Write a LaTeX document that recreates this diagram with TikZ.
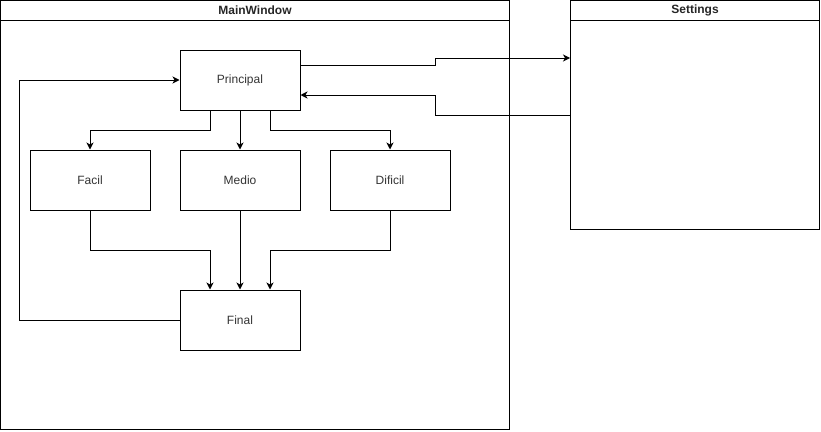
\documentclass[tikz,border=0pt]{standalone}
\usepackage{fontspec}
\setmainfont{Liberation Sans}
\usetikzlibrary{arrows.meta}

\tikzset{
    screen/.style={draw, line width=1pt, minimum width=120pt, minimum height=60pt, inner sep=0pt, text=black!80, font=\fontsize{12}{14}\selectfont},
    lane/.style={draw, line width=1pt, inner sep=0pt},
    lanetitle/.style={font=\bfseries\fontsize{12}{14}\selectfont, text=black!85},
    flow/.style={line width=1pt, -{Stealth[length=7pt,width=7pt,inset=2pt]}}
}

\begin{document}
\begin{tikzpicture}[x=1pt, y=-1pt]
    \useasboundingbox (0,0) rectangle (821,431);

    % containers
    \node[lane, minimum width=509pt, minimum height=429pt] (mainwin) at (255,215) {};
    \draw[line width=1pt] (0.5,20) -- (510,20);
    \node[lanetitle] (mainwintitle) at (255,10) {MainWindow};

    \node[lane, minimum width=249pt, minimum height=229pt] (settings) at (695,115) {};
    \draw[line width=1pt] (570.5,20) -- (819.5,20);
    \node[lanetitle] (settingstitle) at (695,10) {Settings};

    % screens
    \node[screen] (principal) at (240,80) {Principal};
    \node[screen] (facil) at (90,180) {Facil};
    \node[screen] (medio) at (240,180) {Medio};
    \node[screen] (dificil) at (390,180) {Dificil};
    \node[screen] (final) at (240,320) {Final};

    \draw[flow] ([xshift=-30pt]principal.south) -- ++(0,20) -| (facil.north);
    \draw[flow] (principal) -- (medio);
    \draw[flow] ([xshift=30pt]principal.south) -- ++(0,20) -| (dificil.north);

    \draw[flow] (facil.south) -- ++(0,40) -| ([xshift=-30pt]final.north);
    \draw[flow] (medio) -- (final);
    \draw[flow] (dificil.south) -- ++(0,40) -| ([xshift=30pt]final.north);

    \draw[flow] (final.west) -- ++(-160,0) |- (principal.west);

    %\draw to settings and back
    \draw[flow] ([yshift=15pt]principal.east) -- ++(135,0) |- ([yshift=57pt]settings.west);
    \draw[flow] (settings.west) -- ++(-135,0) |- ([yshift=-15pt]principal.east);
\end{tikzpicture}
\end{document}
